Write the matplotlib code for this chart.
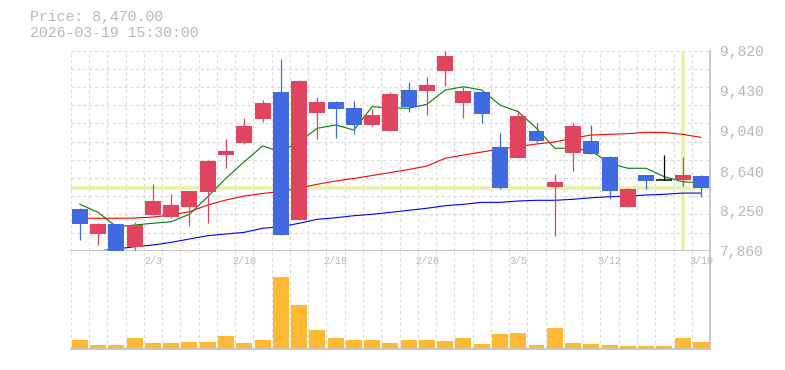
import matplotlib.pyplot as plt

# daily prices, 1/28 - 3/19
dates = ['1/28', '1/29', '1/30', '2/2', '2/3', '2/4', '2/5', '2/6', '2/9', '2/10',
         '2/12', '2/13', '2/16', '2/17', '2/18', '2/19', '2/20', '2/24', '2/25', '2/26',
         '2/27', '3/2', '3/3', '3/4', '3/5', '3/6', '3/9', '3/10', '3/11', '3/12',
         '3/13', '3/16', '3/17', '3/18', '3/19']
opens = [8269, 8024, 8122, 7899, 8213, 8190, 8288, 8438, 8798, 8915,
         9151, 9415, 8164, 9209, 9317, 9258, 9095, 9036, 9435, 9425,
         9624, 9310, 9415, 8876, 8771, 9033, 8487, 8820, 8935, 8778,
         8288, 8602, 8553, 8556, 8592]
highs = [8275, 8128, 8125, 8138, 8514, 8416, 8450, 8745, 8955, 9160,
         9337, 9739, 9530, 9369, 9325, 9327, 9246, 9418, 9513, 9562,
         9830, 9467, 9420, 9013, 9236, 9111, 8612, 9109, 9092, 8785,
         8470, 8605, 8798, 8778, 8598]
lows = [7965, 7916, 7855, 7862, 8210, 8185, 8105, 8134, 8673, 8906,
        9121, 8010, 8160, 8955, 8967, 9004, 9082, 9030, 9222, 9193,
        9477, 9163, 9114, 8465, 8765, 8930, 8007, 8644, 8805, 8370,
        8285, 8468, 8550, 8497, 8389]
closes = [8122, 8122, 7862, 8112, 8347, 8308, 8445, 8739, 8837, 9082,
          9307, 8014, 9523, 9314, 9252, 9095, 9190, 9396, 9271, 9484,
          9768, 9425, 9200, 8477, 9180, 8935, 8533, 9082, 8811, 8448,
          8465, 8546, 8553, 8602, 8470]
volumes = [270, 120, 120, 330, 180, 180, 210, 210, 390, 180,
           270, 2130, 1290, 570, 330, 270, 270, 180, 270, 270,
           240, 330, 150, 450, 480, 120, 630, 180, 150, 120,
           90, 90, 90, 330, 210]

# moving averages (5 / 25 / 75 days)
ma5 = [8315, 8236, 8095, 8112, 8129, 8144, 8217, 8389, 8570, 8732,
       8886, 8830, 8928, 9060, 9092, 9043, 9271, 9261, 9256, 9295,
       9435, 9467, 9435, 9288, 9222, 9060, 8864, 8866, 8837, 8717,
       8668, 8668, 8585, 8536, 8526]
ma25 = [8178, 8178, 8178, 8180, 8190, 8210, 8242, 8308, 8357, 8396,
        8421, 8440, 8474, 8511, 8543, 8568, 8597, 8626, 8656, 8690,
        8766, 8798, 8827, 8857, 8881, 8906, 8925, 8964, 8994, 9001,
        9007, 9020, 9018, 9001, 8971]
ma75 = [7830, 7857, 7877, 7899, 7916, 7942, 7975, 8007, 8024, 8040,
        8080, 8095, 8129, 8168, 8183, 8203, 8217, 8236, 8256, 8276,
        8301, 8315, 8334, 8334, 8347, 8354, 8354, 8364, 8379, 8389,
        8396, 8406, 8413, 8425, 8425]

price_ticks = [7860, 8250, 8640, 9040, 9430, 9820]
price_labels = ['7,860', '8,250', '8,640', '9,040', '9,430', '9,820']
cursor_price = 8470
cursor_idx = 33
label_idx = [4, 9, 14, 19, 24, 29, 34]

UP = '#e0445e'
DOWN = '#4169e1'
GRID = '#dcdcdc'
FRAME = '#c4c4c4'
TEXT = '#b8b8b8'
CROSS = '#e4f5aa'
MONO = 'Liberation Mono'

fig = plt.figure(figsize=(7.85, 3.7), dpi=100)
ax = fig.add_axes([0.0901, 0.3224, 0.8144, 0.5405])
axv = fig.add_axes([0.0901, 0.0568, 0.8144, 0.2656])

n = len(dates)
ymin, ymax = 7860, 9820
dash = (0, (2.5, 2.2))

# price panel
ax.set_xlim(-0.5, n - 0.5)
ax.set_ylim(ymin, ymax)
for k in range(n + 1):
    ax.axvline(k - 0.5, color=GRID, lw=0.9, ls=dash, zorder=0)
step = (ymax - ymin) / 11
for j in range(1, 12):
    ax.axhline(ymin + j * step, color=GRID, lw=0.9, ls=dash, zorder=0)

ax.axhline(cursor_price, color=CROSS, lw=2.6, zorder=1)
ax.axvline(cursor_idx, ymin=0.01, ymax=0.99, color=CROSS, lw=2.6, zorder=1)

xs = list(range(n))
ax.plot(xs, ma75, color='#0000ff', lw=0.8, zorder=2)
ax.plot(xs, ma25, color='#ff0000', lw=0.8, zorder=2)
ax.plot(xs, ma5, color='#008000', lw=0.8, zorder=2)

w = 0.875
for i in range(n):
    o, h, l, c = opens[i], highs[i], lows[i], closes[i]
    if c > o:
        col = UP
    elif c < o:
        col = DOWN
    else:
        col = 'black'
    ax.vlines(i, l, h, color=col, lw=0.9, zorder=3)
    if c == o:
        ax.hlines(c, i - w / 2, i + w / 2, color=col, lw=1.1, zorder=4)
    else:
        ax.bar(i, abs(c - o), bottom=min(o, c), width=w, color=col, lw=0, zorder=4)

ax.yaxis.tick_right()
ax.set_yticks(price_ticks)
ax.set_yticklabels(price_labels, fontfamily=MONO, fontsize=10.5, color=TEXT)
ax.tick_params(axis='y', length=0, pad=7)
ax.set_xticks([])
for s in ['top', 'left']:
    ax.spines[s].set_visible(False)
for s in ['right', 'bottom']:
    ax.spines[s].set_color(FRAME)
    ax.spines[s].set_linewidth(1.3)

# volume panel
axv.set_xlim(-0.5, n - 0.5)
axv.set_ylim(0, 2908)
for k in range(n + 1):
    axv.axvline(k - 0.5, color=GRID, lw=0.9, ls=dash, zorder=0)
axv.bar(xs, volumes, width=w, color='#ffb933', lw=0, zorder=2)
axv.set_xticks([])
axv.set_yticks([])
for s in ['top', 'left']:
    axv.spines[s].set_visible(False)
for s in ['right', 'bottom']:
    axv.spines[s].set_color(FRAME)
    axv.spines[s].set_linewidth(1.3)

trans = axv.get_xaxis_transform()
for i in label_idx:
    axv.text(i, 0.9, dates[i], transform=trans, ha='center', va='center',
             fontfamily=MONO, fontsize=7.2, color=TEXT, zorder=3)

fig.text(30 / 785, 1 - 17.3 / 370, 'Price: 8,470.00', fontfamily=MONO,
         fontsize=10.7, color=TEXT, va='center', ha='left')
fig.text(30 / 785, 1 - 32.7 / 370, '2026-03-19 15:30:00', fontfamily=MONO,
         fontsize=10.7, color=TEXT, va='center', ha='left')

fig.savefig('out.png', dpi=100)
